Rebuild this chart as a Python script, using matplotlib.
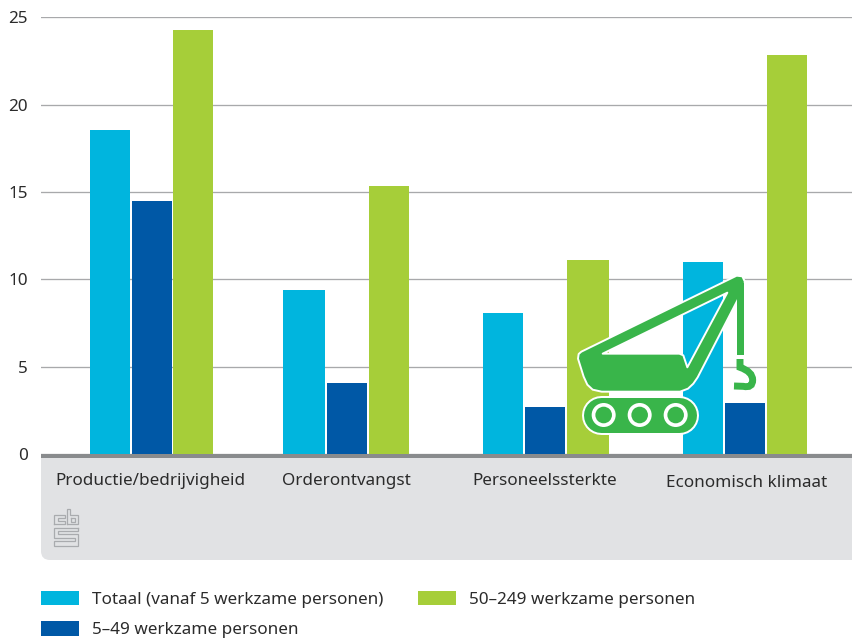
import matplotlib
matplotlib.use("Agg")
import matplotlib.pyplot as plt
from matplotlib.patches import Rectangle, Circle, FancyBboxPatch, PathPatch
from matplotlib.path import Path

categories = ["Productie/bedrijvigheid", "Orderontvangst", "Personeelssterkte", "Economisch klimaat"]
totaal = [18.55, 9.38, 8.05, 11.0]
klein = [14.5, 4.05, 2.7, 2.9]
groot = [24.25, 15.33, 11.1, 22.85]
series_names = ["Totaal (vanaf 5 werkzame personen)", "5–49 werkzame personen", "50–249 werkzame personen"]
yticks = [0, 5, 10, 15, 20, 25]

C1, C2, C3 = "#00b5de", "#0058a6", "#a6ce39"
W, H = 853, 640
FONT = "Noto Sans"
plt.rcParams["font.family"] = [FONT, "DejaVu Sans"]
TXT = "#2b2b2b"
FS = 12.3

fig = plt.figure(figsize=(W / 100, H / 100), dpi=100, facecolor="white")

# background overlay in pixel coords
bg = fig.add_axes([0, 0, 1, 1], zorder=0)
bg.set_xlim(0, W); bg.set_ylim(H, 0); bg.axis("off")
bg.add_patch(FancyBboxPatch((41, 445), W, 115, boxstyle="round,pad=0,rounding_size=9",
                            fc="#e1e2e4", ec="none"))
bg.add_patch(Rectangle((0, 0), W, 454, fc="white", ec="none"))
bg.add_patch(Rectangle((41, 454), W - 41, 3.5, fc="#898b8d", ec="none"))

# cbs logo
logo = "#a9abae"
logo_lines = [
    [(54.5, 524), (54.5, 515), (65, 515), (65, 518), (58, 518), (58, 521), (65, 521), (65, 524), (54.5, 524)],
    [(67, 524), (67, 508.5), (70, 508.5), (70, 515), (78.5, 515), (78.5, 524), (67, 524)],
    [(71, 518), (75, 518), (75, 521.5), (71, 521.5), (71, 518)],
    [(78.5, 527.5), (54.5, 527.5), (54.5, 537.5), (75, 537.5), (75, 541), (54.5, 541), (54.5, 545.5),
     (78.5, 545.5), (78.5, 534), (58, 534), (58, 531), (78.5, 531), (78.5, 527.5)],
]
for ln in logo_lines:
    bg.plot(*zip(*ln), color=logo, lw=0.9, solid_joinstyle="miter")

# chart
ax = fig.add_axes([41 / W, 1 - 454 / H, (W - 41) / W, (454 - 17.3) / H], zorder=1)
ax.patch.set_alpha(0)
ax.set_xlim(41, W)
ax.set_ylim(0, 25)
left1, w1 = [90, 283, 483, 683], [40, 42, 40, 40]
left2, w2 = [132, 327, 525, 725], [40, 40, 40, 40]
left3, w3 = [173, 369, 567, 767], [40, 40, 42, 40]
b1 = ax.bar(left1, totaal, w1, align="edge", color=C1, label=series_names[0], zorder=3)
b2 = ax.bar(left2, klein, w2, align="edge", color=C2, label=series_names[1], zorder=3)
b3 = ax.bar(left3, groot, w3, align="edge", color=C3, label=series_names[2], zorder=3)
ax.set_yticks(yticks)
ax.yaxis.grid(True, color="#a8a9ab", lw=0.95, zorder=1)
ax.set_axisbelow(True)
ax.tick_params(axis="y", length=0, pad=9.5, labelsize=FS, labelcolor=TXT)
ax.tick_params(axis="x", length=0, pad=14, labelsize=FS, labelcolor=TXT)
ax.set_xticks([150.5, 346, 545, 747])
ax.set_xticklabels(categories)
ax.get_xticklabels()[3].set_y(-0.004)
for s in ax.spines.values():
    s.set_visible(False)

leg = fig.legend(handles=[b1, b2, b3], labels=series_names, ncol=2, loc="upper left",
                 bbox_to_anchor=(41 / W, 1 - 590.5 / H), bbox_transform=fig.transFigure,
                 frameon=False, fontsize=FS, labelcolor=TXT, handlelength=2.22, handleheight=0.93,
                 handletextpad=0.76, columnspacing=2.03, labelspacing=0.8, borderaxespad=0, borderpad=0)

# crane emblem, pixel coords
top = fig.add_axes([0, 0, 1, 1], zorder=3)
top.set_xlim(0, W); top.set_ylim(H, 0); top.axis("off"); top.patch.set_alpha(0)
GREEN = "#39b54a"
def z(x, y):
    return 560 + x / 3, 260 + y / 3
outer = [(54, 296), (56, 282), (64, 275), (530, 47), (547, 49), (555, 66), (538, 110), (413, 352),
         (400, 371), (384, 386), (360, 395), (125, 395), (98, 389), (82, 374), (71, 350), (54, 296)]
hole = [(128, 281), (358, 281), (370, 286), (382, 322), (502, 98), (128, 281)]
verts = [z(*p) for p in outer] + [z(*p) for p in hole]
codes = [Path.MOVETO] + [Path.LINETO] * (len(outer) - 2) + [Path.CLOSEPOLY] + \
        [Path.MOVETO] + [Path.LINETO] * (len(hole) - 2) + [Path.CLOSEPOLY]
top.add_patch(PathPatch(Path(verts, codes), fc=GREEN, ec="white", lw=1.4, joinstyle="round", zorder=2))
# hoist line
x0, y0 = z(530, 70); x1, y1 = z(551, 284)
top.add_patch(Rectangle((x0, y0), x1 - x0, y1 - y0, fc=GREEN, ec="none", zorder=3))
# hook
hook = [z(540, 297), z(540, 322), z(578, 335), z(578, 360), z(578, 385), z(550, 379), z(522, 378)]
hc = [Path.MOVETO, Path.LINETO, Path.CURVE3, Path.CURVE3, Path.CURVE3, Path.CURVE3, Path.LINETO]
top.add_patch(PathPatch(Path(hook, hc), fc="none", ec=GREEN, lw=5, capstyle="butt", zorder=3))
# tracks: thick round-capped strokes
(tx0, ty0), (tx1, ty1) = z(124, 465), z(356, 465)
pt = 72 / 100
top.plot([tx0, tx1], [ty0, ty1], color="white", lw=39 * pt, solid_capstyle="round", zorder=4)
top.plot([tx0, tx1], [ty0, ty1], color=GREEN, lw=35 * pt, solid_capstyle="round", zorder=5)
for wx in [131, 239, 347]:
    cx, cy = z(wx, 465)
    top.add_patch(Circle((cx, cy), 12, fc="white", ec="none", zorder=6))
    top.add_patch(Circle((cx, cy), 8.3, fc=GREEN, ec="none", zorder=7))
top.set_xlim(0, W); top.set_ylim(H, 0)

fig.savefig("out.png", dpi=100)
